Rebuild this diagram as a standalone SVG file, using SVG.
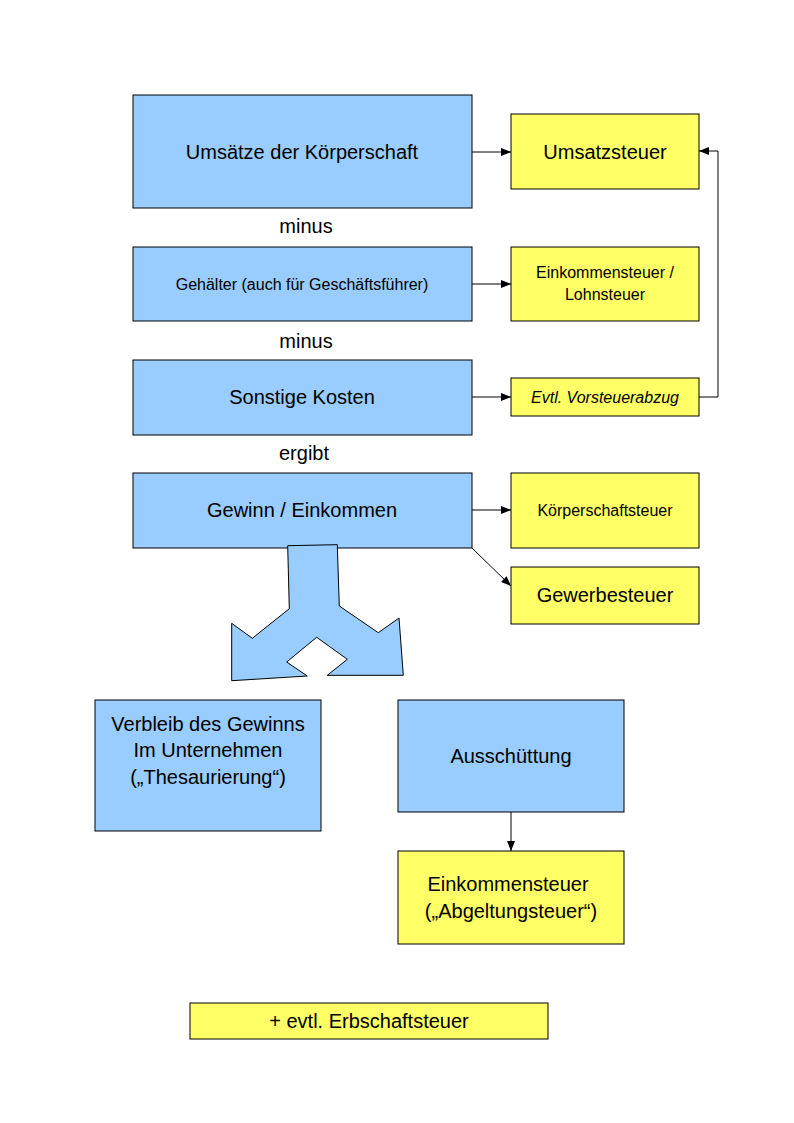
<svg xmlns="http://www.w3.org/2000/svg" width="794" height="1123" viewBox="0 0 794 1123">
<defs>
<style>
.b{fill:#99ccff;stroke:#000;stroke-width:1}
.y{fill:#ffff66;stroke:#000;stroke-width:1}
text{font-family:"Liberation Sans",Arial,sans-serif;fill:#000;text-anchor:middle}
.c{stroke:#000;stroke-width:1;fill:none}
</style>
<marker id="a" viewBox="0 0 10 10" refX="10" refY="5" markerWidth="10" markerHeight="10" markerUnits="userSpaceOnUse" orient="auto"><path d="M0,1L10,5L0,9Z" fill="#000"/></marker>
</defs>
<rect width="794" height="1123" fill="#fff"/>
<g id="n1"><rect class="b" x="133" y="95" width="339" height="113"/><text x="302" y="159" font-size="20">Umsätze der Körperschaft</text></g>
<g id="n2"><rect class="y" x="511" y="114" width="188" height="75"/><text x="605" y="159" font-size="20">Umsatzsteuer</text></g>
<text x="306" y="233" font-size="20">minus</text>
<g id="n3"><rect class="b" x="133" y="247" width="339" height="74"/><text x="302" y="290" font-size="16">Gehälter (auch für Geschäftsführer)</text></g>
<g id="n4"><rect class="y" x="511" y="247" width="188" height="74"/><text x="605" y="278" font-size="16">Einkommensteuer /</text><text x="605" y="300" font-size="16">Lohnsteuer</text></g>
<text x="306" y="348" font-size="20">minus</text>
<g id="n5"><rect class="b" x="133" y="360" width="339" height="75"/><text x="302" y="404" font-size="20">Sonstige Kosten</text></g>
<g id="n6"><rect class="y" x="511" y="378" width="188" height="38"/><text x="605" y="403" font-size="16" font-style="italic">Evtl. Vorsteuerabzug</text></g>
<text x="304" y="460" font-size="20">ergibt</text>
<g id="n7"><rect class="b" x="133" y="473" width="339" height="75"/><text x="302" y="517" font-size="20">Gewinn / Einkommen</text></g>
<g id="n8"><rect class="y" x="511" y="473" width="188" height="75"/><text x="605" y="516" font-size="16">Körperschaftsteuer</text></g>
<g id="n9"><rect class="y" x="511" y="567" width="188" height="57"/><text x="605" y="602" font-size="20">Gewerbesteuer</text></g>
<g id="split"><path class="b" d="M287.7,545.7L337.3,544.7L339.3,606L378.3,632.7L399,618L403.3,675.3L327.3,675.3L347.3,659.3L316.7,637.3L286.7,662L307.3,676L231.7,680.7L231.7,623.3L252.3,638.3L289.3,608.7Z"/></g>
<g id="n10"><rect class="b" x="95" y="700" width="226" height="131"/><text x="208" y="731" font-size="20">Verbleib des Gewinns</text><text x="208" y="757" font-size="20">Im Unternehmen</text><text x="208" y="784" font-size="20">(„Thesaurierung“)</text></g>
<g id="n11"><rect class="b" x="398" y="700" width="226" height="112"/><text x="511" y="763" font-size="20">Ausschüttung</text></g>
<g id="n12"><rect class="y" x="398" y="851" width="226" height="93"/><text x="508" y="891" font-size="20">Einkommensteuer</text><text x="511" y="918" font-size="20">(„Abgeltungsteuer“)</text></g>
<g id="n13"><rect class="y" x="190" y="1003" width="358" height="36"/><text x="369" y="1028" font-size="20">+ evtl. Erbschaftsteuer</text></g>
<g id="connectors">
<path class="c" d="M472,152H511" marker-end="url(#a)"/>
<path class="c" d="M472,284H511" marker-end="url(#a)"/>
<path class="c" d="M472,397H511" marker-end="url(#a)"/>
<path class="c" d="M699,397H718V151H699" marker-end="url(#a)"/>
<path class="c" d="M472,510H511" marker-end="url(#a)"/>
<path class="c" d="M472,548L511,586" marker-end="url(#a)"/>
<path class="c" d="M511,812V851" marker-end="url(#a)"/>
</g>
</svg>
